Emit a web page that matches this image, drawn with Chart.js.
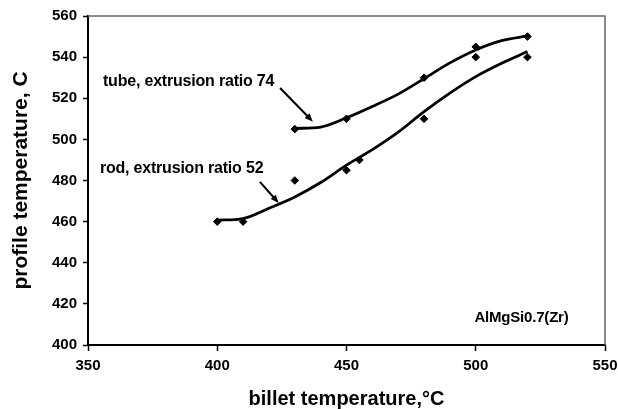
<!DOCTYPE html>
<html>
<head>
<meta charset="utf-8">
<script src="https://cdn.jsdelivr.net/npm/chart.js@4.4.0/dist/chart.umd.min.js"></script>
<style>
    html, body { margin: 0; padding: 0; background: #fff; }
    #wrap { width: 618px; height: 409px; }
</style>
</head>
<body>
<div id="wrap"><canvas id="chart" width="618" height="409"></canvas></div>
<script>
// Measured points (billet temperature, profile temperature)
const tubeX = [430, 450, 480, 500, 520];
const tubeY = [505, 510, 530, 545, 550];
const rodX = [400, 410, 430, 450, 455, 480, 500, 520];
const rodY = [460, 460, 480, 485, 490, 510, 540, 540];

// Fitted curves
const tubeFitX = [430, 440, 450, 460, 470, 480, 490, 500, 510, 520];
const tubeFitY = [505.3, 506, 510.5, 516, 522, 529.5, 537.2, 543.5, 548, 550.3];
const rodFitX = [400, 410, 420, 430, 440, 450, 460, 470, 480, 490, 500, 510, 520];
const rodFitY = [460.7, 461.5, 466.5, 472, 479, 487.5, 495, 503.5, 513.5, 522.5, 530.5, 537, 542.7];

// Axes
const xMin = 350, xMax = 550, xStep = 50;
const yMin = 400, yMax = 560, yStep = 20;

// Labels and arrows, in data units
const notes = [
    { text: 'tube, extrusion ratio 74', x: 355.8, y: 527.9, size: 16 },
    { text: 'rod, extrusion ratio 52', x: 354.6, y: 485.6, size: 16 },
    { text: 'AlMgSi0.7(Zr)', x: 499.5, y: 413, size: 15 }
];
const arrows = [
    { from: [424.3, 525], to: [437, 508.6] },
    { from: [416.5, 479.3], to: [423.8, 469] }
];

const FONT = '"Liberation Sans", Arial, sans-serif';

function toPoints(xs, ys) {
    return xs.map((x, i) => ({ x: x, y: ys[i] }));
}

// Draws the frame, the notes and the arrows
const decorations = {
    id: 'decorations',
    afterDraw(chart) {
        const ctx = chart.ctx;
        const xs = chart.scales.x;
        const ys = chart.scales.y;
        const area = chart.chartArea;

        // thin grey frame on top and right
        ctx.save();
        ctx.strokeStyle = '#666';
        ctx.lineWidth = 1.5;
        ctx.beginPath();
        ctx.moveTo(area.left, area.top);
        ctx.lineTo(area.right, area.top);
        ctx.lineTo(area.right, area.bottom);
        ctx.stroke();
        ctx.restore();

        // notes
        ctx.save();
        ctx.fillStyle = '#000';
        ctx.textBaseline = 'middle';
        ctx.textAlign = 'left';
        ctx.letterSpacing = '-0.2px';
        notes.forEach(n => {
            ctx.font = 'bold ' + n.size + 'px ' + FONT;
            ctx.fillText(n.text, xs.getPixelForValue(n.x), ys.getPixelForValue(n.y));
        });
        ctx.restore();

        // arrows
        ctx.save();
        ctx.strokeStyle = '#000';
        ctx.fillStyle = '#000';
        ctx.lineWidth = 2;
        arrows.forEach(a => {
            const x1 = xs.getPixelForValue(a.from[0]);
            const y1 = ys.getPixelForValue(a.from[1]);
            const x2 = xs.getPixelForValue(a.to[0]);
            const y2 = ys.getPixelForValue(a.to[1]);
            const ang = Math.atan2(y2 - y1, x2 - x1);
            const head = 9;
            ctx.beginPath();
            ctx.moveTo(x1, y1);
            ctx.lineTo(x2 - Math.cos(ang) * head * 0.8, y2 - Math.sin(ang) * head * 0.8);
            ctx.stroke();
            ctx.beginPath();
            ctx.moveTo(x2, y2);
            ctx.lineTo(x2 - head * Math.cos(ang - 0.38), y2 - head * Math.sin(ang - 0.38));
            ctx.lineTo(x2 - head * Math.cos(ang + 0.38), y2 - head * Math.sin(ang + 0.38));
            ctx.closePath();
            ctx.fill();
        });
        ctx.restore();
    }
};

const ctx = document.getElementById('chart').getContext('2d');
new Chart(ctx, {
    type: 'scatter',
    data: {
        datasets: [
            {
                label: 'tube fit',
                data: toPoints(tubeFitX, tubeFitY),
                showLine: true,
                borderColor: '#000',
                borderWidth: 2.8,
                pointRadius: 0,
                cubicInterpolationMode: 'monotone'
            },
            {
                label: 'rod fit',
                data: toPoints(rodFitX, rodFitY),
                showLine: true,
                borderColor: '#000',
                borderWidth: 2.8,
                pointRadius: 0,
                cubicInterpolationMode: 'monotone'
            },
            {
                label: 'tube',
                data: toPoints(tubeX, tubeY),
                pointStyle: 'rectRot',
                pointRadius: 3.8,
                backgroundColor: '#000',
                borderColor: '#000'
            },
            {
                label: 'rod',
                data: toPoints(rodX, rodY),
                pointStyle: 'rectRot',
                pointRadius: 3.8,
                backgroundColor: '#000',
                borderColor: '#000'
            }
        ]
    },
    options: {
        responsive: false,
        animation: false,
        layout: {
            autoPadding: false,
            padding: { top: 16, right: 13, left: 0, bottom: 0 }
        },
        plugins: {
            legend: { display: false },
            tooltip: { enabled: false }
        },
        scales: {
            x: {
                type: 'linear',
                min: xMin,
                max: xMax,
                afterFit(scale) {
                    scale.height = 64;
                    scale.paddingLeft = 0;
                    scale.paddingRight = 0;
                },
                ticks: {
                    stepSize: xStep,
                    color: '#000',
                    padding: 6,
                    font: { family: FONT, size: 15, weight: 'bold' }
                },
                grid: {
                    drawOnChartArea: false,
                    color: '#000',
                    tickLength: 6,
                    tickWidth: 1.5
                },
                border: { color: '#000', width: 2 },
                title: {
                    display: true,
                    text: 'billet temperature,°C',
                    color: '#000',
                    padding: { top: 0, bottom: 0 },
                    font: { family: FONT, size: 20, weight: 'bold', lineHeight: 1 }
                }
            },
            y: {
                min: yMin,
                max: yMax,
                afterFit(scale) { scale.width = 88; },
                ticks: {
                    stepSize: yStep,
                    color: '#000',
                    padding: 6,
                    font: { family: FONT, size: 15, weight: 'bold' }
                },
                grid: {
                    drawOnChartArea: false,
                    color: '#000',
                    tickLength: 5,
                    tickWidth: 1.5
                },
                border: { color: '#000', width: 2 },
                title: {
                    display: true,
                    text: 'profile temperature, C',
                    color: '#000',
                    padding: { top: 11, bottom: 0 },
                    font: { family: FONT, size: 21, weight: 'bold', lineHeight: 1 }
                }
            }
        }
    },
    plugins: [decorations]
});
</script>
</body>
</html>
